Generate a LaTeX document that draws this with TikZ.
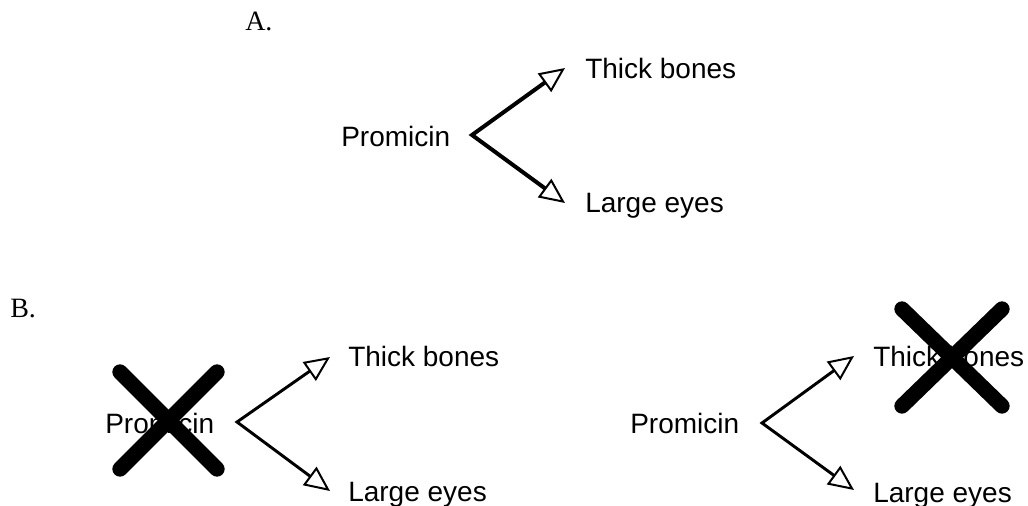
\documentclass[tikz,border=0pt]{standalone}
\usepackage{fontspec}
\setmainfont{Liberation Sans}
\newfontfamily\seriffont{Liberation Serif}
\usetikzlibrary{arrows.meta}
\begin{document}
\begin{tikzpicture}[x=0.75pt,y=-0.75pt,
  lbl/.style={anchor=base west,inner sep=0pt,font=\fontsize{21}{25}\selectfont},
  sec/.style={anchor=base west,inner sep=0pt,font=\seriffont\fontsize{21}{25}\selectfont},
  tipstyle/.style={line join=miter,{Triangle[fill=white,length=19pt,width=17pt,line width=1.5pt]}-{Triangle[fill=white,length=19pt,width=17pt,line width=1.5pt]}},
  arrA/.style={tipstyle,line width=3pt},
  arrB/.style={tipstyle,line width=2.2pt},
  cross/.style={line width=11.5pt,line cap=round}]
\useasboundingbox (0,0) rectangle (1028,506);
% Section A
\node[sec] (labA) at (245,31) {A.};
\node[lbl] (promA) at (341,147) {Promicin};
\node[lbl] (thickA) at (585,79) {Thick bones};
\node[lbl] (largeA) at (585,213) {Large eyes};
\coordinate (vA) at (472,135);
\coordinate (tA1) at (565,68);
\coordinate (tA2) at (565,203);
\draw[arrA] (tA1) -- (vA) -- (tA2);
% Section B label
\node[sec] (labB) at (10,317) {B.};
% B left
\node[lbl] (promB1) at (105,433) {Promicin};
\node[lbl] (thickB1) at (348,366) {Thick bones};
\node[lbl] (largeB1) at (348,501) {Large eyes};
\coordinate (vB1) at (237,422);
\coordinate (tB1a) at (330,357);
\coordinate (tB1b) at (330,491);
\draw[arrB] (tB1a) -- (vB1) -- (tB1b);
\draw[cross] (120,372) -- (217,469);
\draw[cross] (217,372) -- (120,469);
% B right
\node[lbl] (promB2) at (630,433) {Promicin};
\node[lbl] (thickB2) at (873,366) {Thick bones};
\node[lbl] (largeB2) at (873,502) {Large eyes};
\coordinate (vB2) at (762,423);
\coordinate (tB2a) at (854,356);
\coordinate (tB2b) at (854,490);
\draw[arrB] (tB2a) -- (vB2) -- (tB2b);
\draw[cross] (902,309) -- (1002,406);
\draw[cross] (1002,309) -- (902,406);
\end{tikzpicture}
\end{document}
